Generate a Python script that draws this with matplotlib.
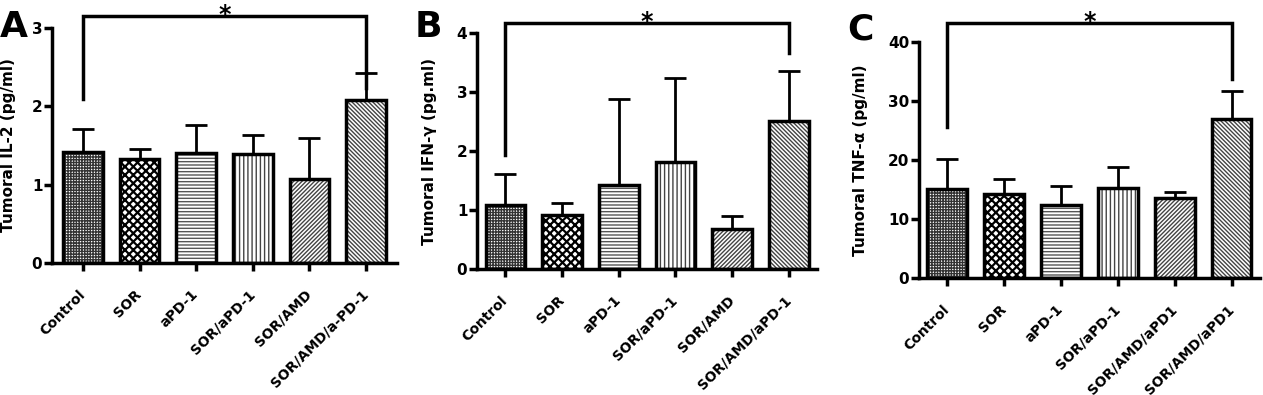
import numpy as np
import matplotlib
matplotlib.use("Agg")
import matplotlib.pyplot as plt
import matplotlib.transforms as mtrans

plt.rcParams['font.family'] = ['DejaVu Sans']
plt.rcParams['font.weight'] = 'bold'
plt.rcParams['hatch.linewidth'] = 1.0

# data (mean and upper error)
labels_a = ['Control', 'SOR', 'aPD-1', 'SOR/aPD-1', 'SOR/AMD', 'SOR/AMD/a-PD-1']
il2_mean = [1.42, 1.33, 1.40, 1.39, 1.07, 2.08]
il2_err = [0.29, 0.12, 0.36, 0.25, 0.53, 0.35]

labels_b = ['Control', 'SOR', 'aPD-1', 'SOR/aPD-1', 'SOR/AMD', 'SOR/AMD/aPD-1']
ifn_mean = [1.08, 0.92, 1.42, 1.81, 0.68, 2.51]
ifn_err = [0.53, 0.20, 1.47, 1.43, 0.22, 0.85]

labels_c = ['Control', 'SOR', 'aPD-1', 'SOR/aPD-1', 'SOR/AMD/aPD1', 'SOR/AMD/aPD1']
tnf_mean = [15.1, 14.3, 12.4, 15.3, 13.5, 26.9]
tnf_err = [5.1, 2.5, 3.2, 3.5, 1.0, 4.7]

# significance brackets: (top, left leg end, right leg end)
brk_a = (3.15, 2.09, 2.24)
brk_b = (4.17, 1.93, 3.66)
brk_c = (43.2, 25.6, 33.7)

hatches = ['++++++', 'xxxx', '-----', '||||', '////////', '\\\\\\\\\\\\\\\\']
hcolors = ['#333333', '#000000', '#555555', '#444444', '#444444', '#444444']
hlw = [1.0, 1.6, 1.0, 1.0, 1.0, 1.0]

fig = plt.figure(figsize=(12.63, 3.95), dpi=100)

panels = [
    ('A', 0.000, 0.906, [0.0412, 0.334, 0.2731, 0.595], labels_a, il2_mean, il2_err, brk_a, 3, [0, 1, 2, 3], 'Tumoral IL-2 (pg/ml)', 0.55, 11),
    ('B', 0.328, 0.906, [0.3777, 0.319, 0.2692, 0.597], labels_b, ifn_mean, ifn_err, brk_b, 4, [0, 1, 2, 3, 4], 'Tumoral IFN-γ (pg.ml)', 0.5, 14),
    ('C', 0.671, 0.899, [0.7276, 0.296, 0.2700, 0.598], labels_c, tnf_mean, tnf_err, brk_c, 40, [0, 10, 20, 30, 40], 'Tumoral TNF-α (pg/ml)', 0.5, 14),
]

shift = mtrans.ScaledTranslation(-3.5 / 100, 0, fig.dpi_scale_trans)

for letter, lx, ly, rect, labels, mean, err, brk, ymax, yticks, ylab, pad, lpad in panels:
    ax = fig.add_axes(rect)
    x = np.arange(len(labels))
    for i in range(len(labels)):
        with plt.rc_context({'hatch.linewidth': hlw[i]}):
            ax.bar(x[i], mean[i], width=0.7, color='white', edgecolor=hcolors[i],
                   hatch=hatches[i], linewidth=0, zorder=2)
    ax.bar(x, mean, width=0.7, fill=False, edgecolor='black', linewidth=2.5, zorder=3)
    ax.errorbar(x, mean, yerr=[np.zeros(len(x)), err], fmt='none', ecolor='black',
                elinewidth=2, capsize=8, capthick=2, zorder=1)
    ax.set_xlim(-pad, len(labels) - 1 + pad)
    ax.set_ylim(0, ymax)
    ax.set_yticks(yticks)
    ax.set_xticks(x)
    ax.set_xticklabels(labels, rotation=45, ha='right', va='center',
                       rotation_mode='anchor', fontsize=10, fontweight='bold')
    for lab in ax.get_xticklabels():
        lab.set_transform(lab.get_transform() + shift)
    ax.tick_params(axis='y', labelsize=11, width=2.5, length=6, pad=1)
    ax.tick_params(axis='x', width=2.5, length=6, pad=15)
    for s in ['top', 'right']:
        ax.spines[s].set_visible(False)
    for s in ['left', 'bottom']:
        ax.spines[s].set_linewidth(2.5)
    ax.set_ylabel(ylab, fontsize=11, fontweight='bold', labelpad=lpad)

    top, lleg, rleg = brk
    ax.plot([x[0], x[0], x[-1], x[-1]], [lleg, top, top, rleg], color='black',
            lw=2.5, clip_on=False, solid_joinstyle='miter')
    ax.annotate('*', xy=((x[0] + x[-1]) / 2, top), xytext=(0, -4),
                textcoords='offset points', ha='center', va='baseline',
                fontsize=17, fontweight='bold', annotation_clip=False)

    fig.text(lx, ly, letter, fontsize=26, fontweight='bold', ha='left', va='baseline')

fig.savefig('out.png', dpi=100)
